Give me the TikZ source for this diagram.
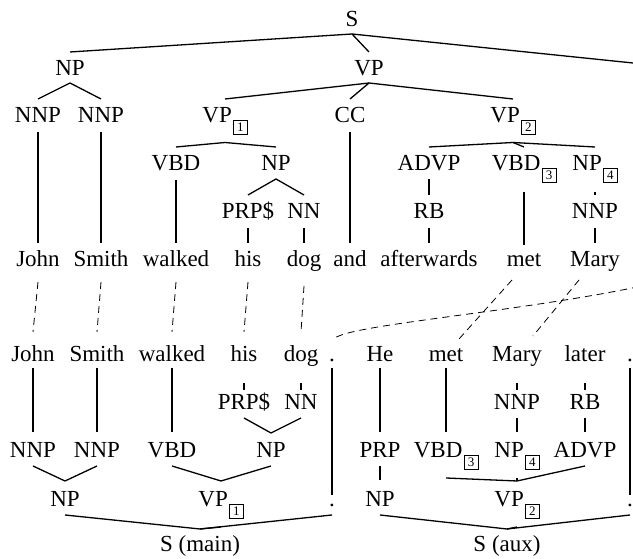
\documentclass[tikz,border=0pt]{standalone}
\usepackage{fontspec}
\setmainfont{Liberation Serif}
% boxed index written after a category label
\newcommand\tagbox[1]{\hspace{1.5pt}\raisebox{-9pt}{\setlength\fboxsep{0pt}\setlength\fboxrule{0.6pt}\fbox{\makebox[13pt]{\rule[-2.5pt]{0pt}{14pt}\fontsize{13}{13}\selectfont #1}}}}
\tikzset{
  lab/.style={inner sep=0pt, anchor=base, font=\fontsize{23}{27}\selectfont},
  treeline/.style={line width=1.3pt},
  guide/.style={line width=0.8pt, dash pattern=on 7pt off 5pt}
}
\begin{document}
\begin{tikzpicture}[x=1pt,y=1pt]
\useasboundingbox (0,0) rectangle (633,559);
\clip (0,0) rectangle (633,559);

% ---------------- upper parse tree ----------------
\node[lab] (nS)    at (352,532) {S};
\node[lab] (npT)   at (70,483)  {NP};
\node[lab] (vpT)   at (369,483) {VP};
\node[lab] (nnpA)  at (38,436)  {NNP};
\node[lab] (nnpB)  at (101,436) {NNP};
\node[lab] (vp1T)  at (225,436) {VP\tagbox{1}};
\node[lab] (ccT)   at (350,436) {CC};
\node[lab] (vp2T)  at (513,436) {VP\tagbox{2}};
\node[lab] (vbdT)  at (176,388) {VBD};
\node[lab] (npT2)  at (276,388) {NP};
\node[lab] (advpT) at (429,388) {ADVP};
\node[lab] (vbd3T) at (524,388) {VBD\tagbox{3}};
\node[lab] (np4T)  at (595,388) {NP\tagbox{4}};
\node[lab] (prpsT) at (248,340) {PRP\$};
\node[lab] (nnT)   at (304,340) {NN};
\node[lab] (rbT)   at (429,340) {RB};
\node[lab] (nnpT)  at (595,340) {NNP};
% words of the first sentence
\node[lab] (wJohn)   at (38,292)  {John};
\node[lab] (wSmith)  at (101,292) {Smith};
\node[lab] (wWalked) at (176,292) {walked};
\node[lab] (wHis)    at (248,292) {his};
\node[lab] (wDog)    at (304,292) {dog};
\node[lab] (wAnd)    at (350,292) {and};
\node[lab] (wAfter)  at (429,292) {afterwards};
\node[lab] (wMet)    at (524,292) {met};
\node[lab] (wMary)   at (595,292) {Mary};
% end points lying beyond the right border
\coordinate (sdot)   at (914,467);
\coordinate (topdot) at (720,294);

% ---------------- rewritten sentences ----------------
\node[lab] (bJohn)   at (33,197)  {John};
\node[lab] (bSmith)  at (97,197)  {Smith};
\node[lab] (bWalked) at (172,197) {walked};
\node[lab] (bHis)    at (244,197) {his};
\node[lab] (bDog)    at (301,197) {dog};
\node[lab] (bDotA)   at (332,197) {.};
\node[lab] (bHe)     at (380,197) {He};
\node[lab] (bMet)    at (446,197) {met};
\node[lab] (bMary)   at (517,197) {Mary};
\node[lab] (bLater)  at (585,197) {later};
\node[lab] (bDotB)   at (630,197) {.};
\node[lab] (r5prps)  at (244,149) {PRP\$};
\node[lab] (r5nn)    at (301,149) {NN};
\node[lab] (r5nnp)   at (517,149) {NNP};
\node[lab] (r5rb)    at (585,149) {RB};
\node[lab] (r6nnpA)  at (33,101)  {NNP};
\node[lab] (r6nnpB)  at (97,101)  {NNP};
\node[lab] (r6vbd)   at (172,101) {VBD};
\node[lab] (r6np)    at (271,101) {NP};
\node[lab] (r6prp)   at (380,101) {PRP};
\node[lab] (r6vbd3)  at (446,101) {VBD\tagbox{3}};
\node[lab] (r6np4)   at (517,101) {NP\tagbox{4}};
\node[lab] (r6advp)  at (585,101) {ADVP};
\node[lab] (r7np)    at (65,52)   {NP};
\node[lab] (r7vp1)   at (221,52)  {VP\tagbox{1}};
\node[lab] (r7dotA)  at (332,52)  {.};
\node[lab] (r7npB)   at (380,52)  {NP};
\node[lab] (r7vp2)   at (517,52)  {VP\tagbox{2}};
\node[lab] (r7dotB)  at (630,52)  {.};
\node[lab] (sMain)   at (200,7)   {S (main)};
\node[lab] (sAux)    at (507,7)   {S (aux)};

% ---------------- branches of the upper tree ----------------
\begin{scope}[treeline]
\draw ([yshift=24]npT.base) -- ([yshift=-7]nS.base) -- (sdot);
\draw ([yshift=-7]nS.base) -- ([yshift=24]vpT.base);
\draw ([yshift=24]nnpA.base) -- ([yshift=-7]npT.base) -- ([yshift=24]nnpB.base);
\draw ([yshift=24]vp1T.base) -- ([yshift=-7]vpT.base) -- ([yshift=24]vp2T.base);
\draw ([yshift=-7]vpT.base) -- ([yshift=24]ccT.base);
\draw ([yshift=-9]nnpA.base) -- ([yshift=24]wJohn.base);
\draw ([yshift=-9]nnpB.base) -- ([yshift=24]wSmith.base);
\draw ([yshift=-9]ccT.base) -- ([yshift=24]wAnd.base);
\draw ([yshift=24]vbdT.base) -- ([yshift=-19.5]vp1T.base) -- ([yshift=24]npT2.base);
\draw ([yshift=24]advpT.base) -- ([yshift=-19.5]vp2T.base) -- ([yshift=24]np4T.base);
\draw ([yshift=-19.5]vp2T.base) -- ([yshift=24]vbd3T.base);
\draw ([yshift=-9]vbdT.base) -- ([yshift=24]wWalked.base);
\draw ([yshift=24]prpsT.base) -- ([yshift=-8]npT2.base) -- ([yshift=24]nnT.base);
\draw ([yshift=-8]advpT.base) -- ([yshift=24]rbT.base);
\draw ([yshift=-21]vbd3T.base) -- ([yshift=22]wMet.base);
\draw ([yshift=-21]np4T.base) -- ([yshift=24]nnpT.base);
\draw ([yshift=-9]prpsT.base) -- ([yshift=24]wHis.base);
\draw ([yshift=-9]nnT.base) -- ([yshift=24]wDog.base);
\draw ([yshift=-9]rbT.base) -- ([yshift=24]wAfter.base);
\draw ([yshift=-9]nnpT.base) -- ([yshift=24]wMary.base);
\end{scope}

% ---------------- word alignment ----------------
\begin{scope}[guide]
\draw ([yshift=-15]wJohn.base)   -- ([yshift=30]bJohn.base);
\draw ([yshift=-15]wSmith.base)  -- ([yshift=30]bSmith.base);
\draw ([yshift=-15]wWalked.base) -- ([yshift=30]bWalked.base);
\draw ([yshift=-15]wHis.base)    -- ([yshift=30]bHis.base);
\draw ([yshift=-19]wDog.base)    -- ([yshift=30]bDog.base);
\draw ([shift={(-12,-13)}]wMet.base)  -- ([shift={(13,23)}]bMet.base);
\draw ([shift={(-16,-13)}]wMary.base) -- ([shift={(16,26)}]bMary.base);
\draw (topdot) .. controls (600,251) and (340,237) .. ([shift={(1,22)}]bDotA.base);
\end{scope}

% ---------------- branches of the lower trees ----------------
\begin{scope}[treeline]
\draw ([yshift=-6]bJohn.base)   -- ([yshift=26]r6nnpA.base);
\draw ([yshift=-6]bSmith.base)  -- ([yshift=26]r6nnpB.base);
\draw ([yshift=-6]bWalked.base) -- ([yshift=26]r6vbd.base);
\draw ([yshift=-6]bHe.base)     -- ([yshift=26]r6prp.base);
\draw ([yshift=-6]bMet.base)    -- ([yshift=26]r6vbd3.base);
\draw ([yshift=-6]bDotA.base)   -- ([yshift=12]r7dotA.base);
\draw ([yshift=-6]bDotB.base)   -- ([yshift=12]r7dotB.base);
\draw ([yshift=-21]bHis.base)   -- ([yshift=20]r5prps.base);
\draw ([yshift=-21]bDog.base)   -- ([yshift=20]r5nn.base);
\draw ([yshift=-21]bMary.base)  -- ([yshift=20]r5nnp.base);
\draw ([yshift=-21]bLater.base) -- ([yshift=20]r5rb.base);
\draw ([yshift=-8]r5prps.base) -- ([yshift=25]r6np.base) -- ([yshift=-8]r5nn.base);
\draw ([yshift=-8]r5nnp.base) -- ([yshift=26]r6np4.base);
\draw ([yshift=-8]r5rb.base)  -- ([yshift=26]r6advp.base);
\draw ([yshift=-8]r6nnpA.base) -- ([yshift=26]r7np.base) -- ([yshift=-8]r6nnpB.base);
\draw ([yshift=-8]r6vbd.base) -- ([yshift=26]r7vp1.base) -- ([yshift=-8]r6np.base);
\draw ([yshift=-8]r6prp.base) -- ([yshift=27]r7npB.base);
\draw ([yshift=-20]r6vbd3.base) -- ([yshift=26]r7vp2.base) -- ([yshift=-8]r6advp.base);
\draw ([yshift=-20]r6np4.base) -- ([yshift=26]r7vp2.base);
\draw ([yshift=-8]r7np.base) -- ([yshift=23]sMain.base) -- ([yshift=-8]r7dotA.base);
\draw ([yshift=-20]r7vp1.base) -- ([yshift=23]sMain.base);
\draw ([yshift=-8]r7npB.base) -- ([yshift=23]sAux.base) -- ([yshift=-8]r7dotB.base);
\draw ([yshift=-20]r7vp2.base) -- ([yshift=23]sAux.base);
\end{scope}
\end{tikzpicture}
\end{document}
